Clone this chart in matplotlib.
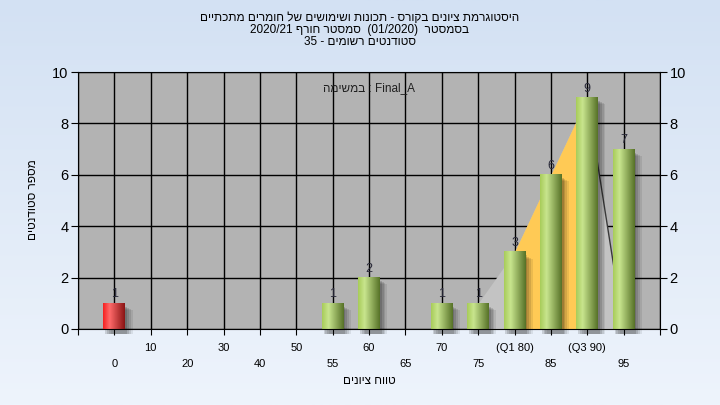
import numpy as np
import matplotlib.pyplot as plt
from matplotlib.colors import to_rgb
from matplotlib.patches import Rectangle

plt.rcParams["font.family"] = ["Liberation Sans", "DejaVu Sans"]

# data
grades = ["0", "10", "20", "30", "40", "50", "55", "60", "65", "70",
          "75", "(Q1 80)", "85", "(Q3 90)", "95"]
counts = [1, 0, 0, 0, 0, 0, 1, 2, 0, 1, 1, 3, 6, 9, 7]
fail_grades = ["0"]
# distribution area drawn behind the bars
curve_grades = ["75", "(Q1 80)", "85", "(Q3 90)", "95"]
curve_vals = [1, 3, 6, 9, 0]
q1_label, q3_label = "(Q1 80)", "(Q3 90)"

title_lines = [
    "היסטוגרמת ציונים בקורס - תכונות ושימושים של חומרים מתכתיים"[::-1],
    "2020/21 " + "סמסטר חורף"[::-1] + "  (01/2020)  " + "בסמסטר"[::-1],
    "35 - " + "סטודנטים רשומים"[::-1],
]
task_text = "במשימה"[::-1] + " : Final_A"
ylabel = "מספר סטודנטים"[::-1]
xlabel = "טווח ציונים"[::-1]


def gradient(c_left, c_hi, c_right, n=64):
    t = np.linspace(0, 1, n)
    a, b, c = (np.array(to_rgb(x)) for x in (c_left, c_hi, c_right))
    out = np.zeros((1, n, 3))
    for i, v in enumerate(t):
        if v < 0.3:
            out[0, i] = a + (b - a) * (v / 0.3)
        else:
            out[0, i] = b + (c - b) * ((v - 0.3) / 0.7)
    return out


fig = plt.figure(figsize=(7.2, 4.05), dpi=100)

# soft blue background
bg = fig.add_axes([0, 0, 1, 1], zorder=-5)
grad = np.linspace(0, 1, 256)[:, None]
top_c, bot_c = np.array(to_rgb("#d3e1f3")), np.array(to_rgb("#eef4fc"))
bg.imshow(top_c + (bot_c - top_c) * grad[..., None], aspect="auto",
          extent=[0, 1, 0, 1])
bg.axis("off")

ax = fig.add_axes([78 / 720, 1 - 329 / 405, 582 / 720, 257 / 405])
ax.set_facecolor("#b3b3b3")

pos = {g: i + 1 for i, g in enumerate(grades)}
cx = [pos[g] for g in curve_grades]
ax.fill_between(cx, curve_vals, color="#c3c3c3", zorder=1, lw=0)
mask = [pos[q1_label] <= x <= pos[q3_label] for x in cx]
ax.fill_between(cx, curve_vals, where=mask, color="#ffca55", zorder=1.1, lw=0)
ax.plot(cx[-2:], curve_vals[-2:], color="#3a3a3a", lw=1, zorder=1.2)

green = gradient("#a8cc5a", "#c8e58e", "#577228")
red = gradient("#f52020", "#ff6a6a", "#8a1414")
w = 0.6
for g, c in zip(grades, counts):
    if c == 0:
        continue
    x = pos[g]
    # soft shadow
    for k, a in enumerate([0.14, 0.12, 0.10, 0.08]):
        d = 0.05 + 0.05 * k
        ax.add_patch(Rectangle((x - w / 2 + d, -0.2), w, c + 0.1 - d * 0.8,
                               color="black", alpha=a, lw=0, zorder=2,
                               clip_on=False))
    img = red if g in fail_grades else green
    ax.imshow(img, extent=[x - w / 2, x + w / 2, 0, c], aspect="auto", zorder=3)
    ax.text(x, c + 0.12, str(c), ha="center", va="bottom", fontsize=9,
            color="#2a2a3a", zorder=4)

ax.set_xlim(0, 16)
ax.set_ylim(0, 10)
ax.set_xticks(range(0, 17))
ax.set_xticklabels([""] + [g if i % 2 else "\n" + g for i, g in enumerate(grades)] + [""],
                   fontsize=8, linespacing=1.8)
ax.set_yticks(range(0, 11, 2))
ax.tick_params(axis="y", labelsize=10.5, right=True, labelright=True,
               direction="out", length=5, pad=2)
ax.tick_params(axis="x", direction="out", length=4, pad=6)
ax.grid(True, color="black", lw=1, zorder=0)
ax.set_axisbelow(True)
for s in ax.spines.values():
    s.set_color("black")
    s.set_zorder(5)

ax.text(0.5, 0.96, task_text, transform=ax.transAxes, ha="center", va="top",
        fontsize=8.5, color="#202020", zorder=5)

for i, line in enumerate(title_lines):
    fig.text(0.5, 1 - (18 + 12 * i) / 405, line, ha="center", va="center",
             fontsize=8.5)
fig.text(33 / 720, 1 - 200 / 405, ylabel, rotation=90, ha="center", va="center",
         fontsize=8.5)
fig.text(369 / 720, 1 - 381 / 405, xlabel, ha="center", va="center", fontsize=8.5)

fig.savefig("out.png", dpi=100)
